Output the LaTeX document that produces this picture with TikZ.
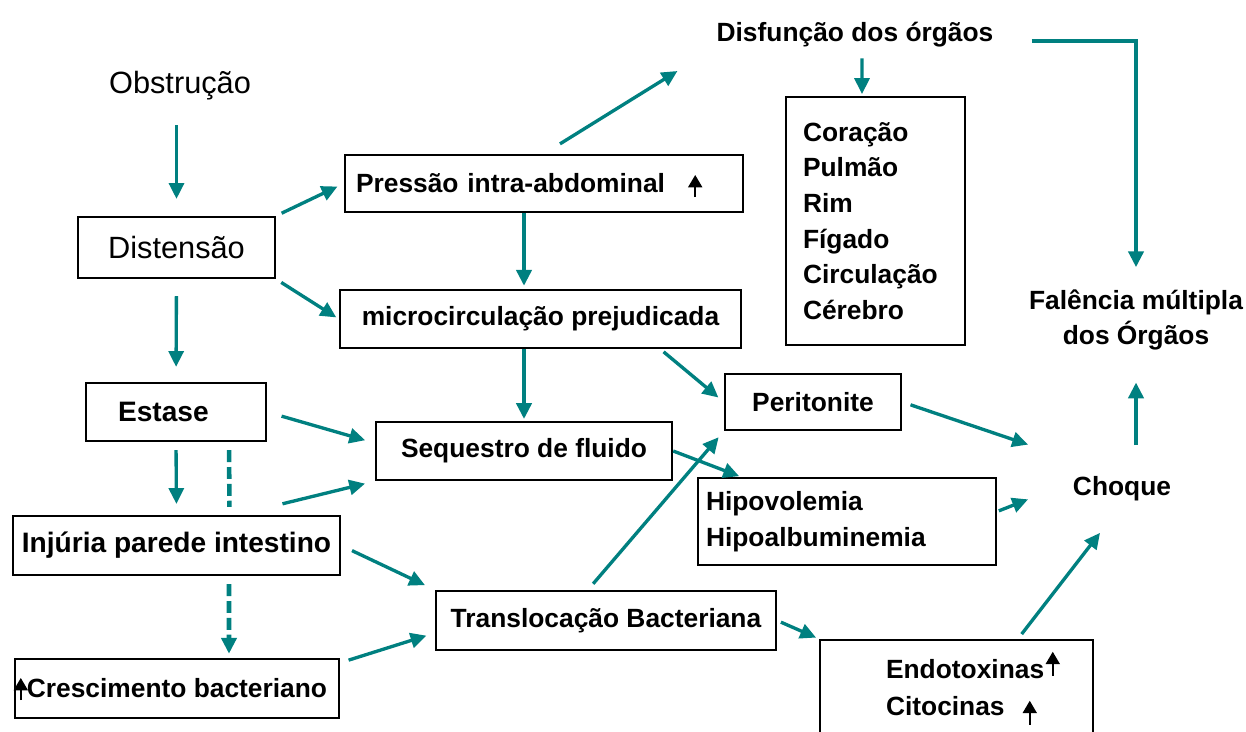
\documentclass[tikz,border=0pt]{standalone}
\usepackage{fontspec}
\setmainfont{Liberation Sans}
\usetikzlibrary{arrows.meta}
\definecolor{seta}{RGB}{0,128,128}
\tikzstyle{box}=[draw,line width=1.4pt,inner sep=0pt,font=\bfseries\fontsize{15}{20.3}\selectfont]
\tikzstyle{txt}=[inner sep=0pt,font=\bfseries\fontsize{15}{20.3}\selectfont]
\tikzstyle{bigtxt}=[inner sep=0pt,font=\fontsize{17.5}{21}\selectfont]
\tikzstyle{edge}=[draw,seta,line width=1.9pt,-{Triangle[length=9pt,width=8.5pt]}]
\tikzstyle{thickedge}=[edge,line width=2.5pt]
\tikzstyle{dashededge}=[edge,line width=2.6pt,dash pattern=on 6.8pt off 2.8pt]
\tikzstyle{uparrow}=[draw,black,line width=0.9pt,-{Triangle[length=7pt,width=8pt]}]
\begin{document}
\begin{tikzpicture}[x=0.02cm,y=-0.02cm]
\useasboundingbox (0,0) rectangle (1246,731);
\clip (0,0) rectangle (1246,731);

    % texts without frame
    \node[bigtxt,anchor=base] (obstrucao) at (180,93) {Obstrução};
    \node[txt,anchor=base] (disfuncao) at (855,41) {Disfunção dos órgãos};
    \node[txt,align=center] (falencia) at (1136,320) {Falência múltipla\\dos Órgãos};
    \node[txt,minimum width=3.68cm,minimum height=1.74cm] (choque) at (1122,489) {Choque};

    % boxes
    \node[box,font=\fontsize{17.5}{21}\selectfont,minimum width=3.94cm,minimum height=1.22cm] (distensao) at (176.5,247.5) {Distensão};
    \node[box,font=\bfseries\fontsize{16}{20}\selectfont,minimum width=6.54cm,minimum height=1.18cm] (injuria) at (176.5,545.5) {Injúria parede intestino};
    \node[box,font=\bfseries\fontsize{16}{20}\selectfont,align=left,text width=2.32cm,inner xsep=0.64cm,minimum height=1.16cm] (estase) at (176,412) {Estase};
    \foreach \pos/\name/\w/\h/\lbl in {{(540.5,319)/micro/8.02/1.16/microcirculação prejudicada},
        {(524,451)/sequestro/5.92/1.16/Sequestro de fluido},
        {(813,402)/peritonite/3.52/1.12/Peritonite},
        {(606,620.5)/transloc/6.8/1.18/Translocação Bacteriana},
        {(177,688.5)/crescimento/6.48/1.18/Crescimento bacteriano}}
        \node[box,minimum width=\w cm,minimum height=\h cm] (\name) at \pos {\lbl};

    \node[box,align=left,text width=7.52cm,inner xsep=0.22cm,minimum height=1.14cm] (pressao) at (544,183.5) {Pressão intra-abdominal};
    \node[box,align=left,text width=2.9cm,inner xsep=0.34cm,minimum height=4.96cm] (orgaos) at (875.5,221) {Coração\\Pulmão\\Rim\\Fígado\\Circulação\\Cérebro};
    \node[box,align=left,text width=5.64cm,inner xsep=0.16cm,minimum height=1.74cm] (hipo) at (847,521.5) {Hipovolemia\\Hipoalbuminemia};
    \node[box,align=left,text width=5.14cm,inner xsep=0.16cm,font=\bfseries\fontsize{15}{21}\selectfont,minimum height=1.9cm] (endo) at (956.5,687.5) {\hspace*{1.16cm}Endotoxinas\\\hspace*{1.16cm}Citocinas};

    % Connect boxes with arrows
    \foreach \source/\dest/\s/\e in {{distensao.south/estase.north/9.6pt/8.5pt},
        {estase.south/injuria.north/4.5pt/6.2pt},
        {distensao.north east/pressao.west/3.4pt/4pt},
        {distensao.south east/micro.west/3.4pt/1.7pt},
        {pressao.north/disfuncao.south west/10.7pt/26pt},
        {injuria.east/transloc.north west/6.8pt/6.2pt},
        {transloc.east/endo.north west/2.3pt/1.7pt},
        {peritonite.east/choque.north west/5pt/1pt}}
        \draw[edge,shorten <=\s,shorten >=\e] (\source) -- (\dest);

    \draw[edge,shorten <=14.5pt,shorten >=9.6pt] (obstrucao.south -| distensao.north) -- (distensao.north);
    \draw[thickedge,shorten >=1.7pt] (pressao.south -| sequestro.north) -- (micro.north -| sequestro.north);
    \draw[thickedge,shorten >=1pt] (micro.south -| sequestro.north) -- (sequestro.north);
    \draw[edge,shorten <=8.5pt,shorten >=5.7pt] (estase.east) -- ([yshift=0.16cm]sequestro.west);
    \draw[edge,shorten >=5.7pt] ([xshift=2.12cm,yshift=0.22cm]injuria.north) -- (sequestro.south west);
    \draw[dashededge,-,shorten <=4.5pt,shorten >=4.5pt] ([xshift=1.06cm]estase.south) -- ([xshift=1.06cm]injuria.north);
    \draw[dashededge,shorten <=4.5pt,shorten >=2.3pt] ([xshift=1.05cm]injuria.south) -- ([xshift=1.04cm]crescimento.north);
    \draw[edge,shorten <=5pt,shorten >=5pt] ([yshift=-0.1cm]crescimento.north east) -- ([yshift=-0.25cm]transloc.west);
    \draw[edge,shorten <=2.3pt,shorten >=4pt] ([xshift=2.4cm]micro.south) -- (peritonite.west);
    \draw[edge,shorten <=4.5pt,shorten >=4.5pt] ([xshift=-0.36cm]transloc.north) -- (peritonite.south west);
    \draw[edge,shorten >=1pt] (sequestro.east) -- ([xshift=0.88cm]hipo.north west);
    \draw[edge,shorten <=1pt,shorten >=1pt] ([yshift=0.2cm]hipo.east) -- (choque.186);
    \draw[edge,shorten <=3.4pt] ([xshift=1.23cm]endo.north) -- ([xshift=-0.44cm]choque.south);
    \draw[edge,shorten <=6.5pt,shorten >=1pt] ([xshift=0.14cm]disfuncao.south) -- ([xshift=-0.27cm]orgaos.north);
    \draw[thickedge,shorten <=21.5pt,shorten >=12.5pt] (disfuncao.base east) -| (falencia.north);
    \draw[thickedge,shorten >=18pt] (choque.north -| falencia.south) -- (falencia.south);

    % small black arrows
    \draw[uparrow] ([xshift=-0.98cm,yshift=-0.27cm]pressao.east) -- ++(0,-22);
    \draw[uparrow] ([xshift=0.14cm,yshift=-0.23cm]crescimento.west) -- ++(0,-22);
    \draw[uparrow] ([xshift=4.68cm,yshift=-0.74cm]endo.north west) -- ++(0,-24);
    \draw[uparrow] ([xshift=4.22cm,yshift=-1.72cm]endo.north west) -- ++(0,-24);
\end{tikzpicture}
\end{document}
